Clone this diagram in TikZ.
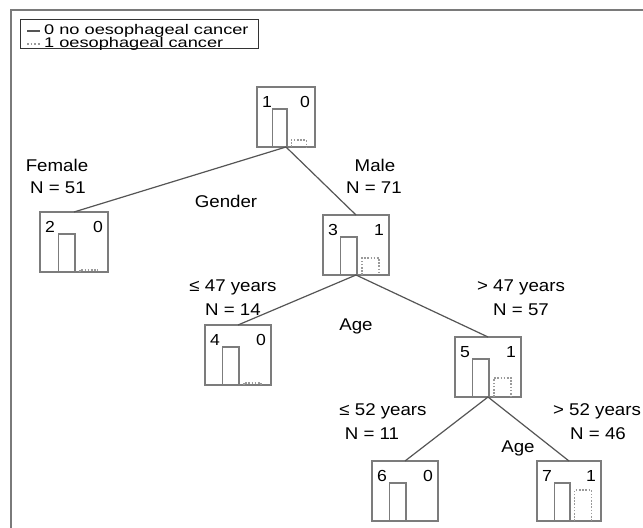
\documentclass[tikz,border=0pt]{standalone}
\usepackage{fontspec}
\setmainfont{Liberation Sans}
\newfontfamily\lblfont[FakeStretch=1.1]{Liberation Sans}
\newfontfamily\legfont[FakeStretch=1.3]{Liberation Sans}
\usetikzlibrary{calc}
\definecolor{framegray}{HTML}{7A7A7A}
\definecolor{boxgray}{HTML}{7C7C7C}
\definecolor{edgegray}{HTML}{555555}
\definecolor{dotgray}{HTML}{9A9A9A}
\tikzset{
  lbl/.style={font=\lblfont\fontsize{17bp}{20bp}\selectfont, inner sep=0pt, anchor=center},
  num/.style={font=\lblfont\fontsize{16bp}{19bp}\selectfont, inner sep=0pt},
  leg/.style={font=\legfont\fontsize{14bp}{16bp}\selectfont, inner sep=0pt, anchor=west},
  nodebox/.style={draw=boxgray, line width=1.4bp, fill=white, inner sep=0pt, outer sep=0pt,
                  minimum height=60bp, anchor=north west},
  solidbar/.style={draw=boxgray, line width=1.3bp},
  dotbar/.style={draw=dotgray, line width=1.3bp, dash pattern=on 1.6bp off 1.6bp},
  edge/.style={draw=edgegray, line width=1.2bp},
}
% one tree node: name, left x, top y, width, node number, predicted class, height of dotted bar
\newcommand{\cartnode}[7]{%
  \node[nodebox, minimum width=#4bp] (#1) at (#2,#3) {};
  \draw[solidbar] ($(#1.south west)+(0.27*#4,0)$) |- ($(#1.south west)+(0.515*#4,-38)$) -- ($(#1.south west)+(0.515*#4,0)$);
  \ifdim #7pt>0pt
    \draw[dotbar] ($(#1.south west)+(0.59*#4,0)$) |- ($(#1.south west)+(0.85*#4,-#7)$) -- ($(#1.south west)+(0.85*#4,0)$);
  \fi
  \node[num, anchor=west] (#1-id) at ($(#1.north west)+(5,15)$) {#5};
  \node[num, anchor=east] (#1-cl) at ($(#1.north east)+(-5,15)$) {#6};
}
\begin{document}
\begin{tikzpicture}[x=1bp,y=-1bp]
\useasboundingbox (0,0) rectangle (643,528);
\fill[white] (0,0) rectangle (643,528);
% outer frame (open to the right and bottom)
\draw[framegray, line width=2bp] (11,528) -- (11,10) -- (643,10);

% legend
\node[draw=black!80, line width=0.8bp, minimum width=238bp, minimum height=29bp,
      inner sep=0pt, anchor=north west] (legend) at (20,19) {};
\coordinate (l1a) at (27,31);  \coordinate (l1b) at (40,31);
\coordinate (l2a) at (27,44);  \coordinate (l2b) at (40,44);
\draw[edgegray, line width=1.1bp] (l1a) -- (l1b);
\draw[dotgray, line width=1.1bp, dash pattern=on 1.8bp off 1.8bp] (l2a) -- (l2b);
\node[leg] (leg1) at (44,31) {0 no oesophageal cancer};
\node[leg] (leg2) at (44,44) {1 oesophageal cancer};

% tree nodes
\cartnode{n1}{257}{87}{58}{1}{0}{7}
\cartnode{n2}{40}{212}{68}{2}{0}{2}
\cartnode{n3}{323}{215}{66}{3}{1}{17}
\cartnode{n4}{205}{325}{66}{4}{0}{2}
\cartnode{n5}{455}{337}{66}{5}{1}{19}
\cartnode{n6}{372}{461}{66}{6}{0}{0}
\cartnode{n7}{537}{461}{64}{7}{1}{31}

% branches
\draw[edge] (n1.south) -- (n2.north);
\draw[edge] (n1.south) -- (n3.north);
\draw[edge] (n3.south) -- (n4.north);
\draw[edge] (n3.south) -- (n5.north);
\draw[edge] (n5.south) -- (n6.north);
\draw[edge] (n5.south) -- (n7.north);

% split labels
\node[lbl] (fem) at (57,165) {Female};
\node[lbl] (femn) at (58,188) {N = 51};
\node[lbl] (male) at (375,165) {Male};
\node[lbl] (malen) at (374,188) {N = 71};
\node[lbl] (gender) at (226,201) {Gender};
\node[lbl] (young) at (233,287) {≤ 47 years};
\node[lbl] (youngn) at (233,310) {N = 14};
\node[lbl] (age1) at (356,326) {Age};
\node[lbl] (old) at (521,287) {> 47 years};
\node[lbl] (oldn) at (521,310) {N = 57};
\node[lbl] (young2) at (383,411) {≤ 52 years};
\node[lbl] (young2n) at (372,434) {N = 11};
\node[lbl] (age2) at (518,448) {Age};
\node[lbl] (old2) at (597,411) {> 52 years};
\node[lbl] (old2n) at (598,434) {N = 46};
\end{tikzpicture}
\end{document}
